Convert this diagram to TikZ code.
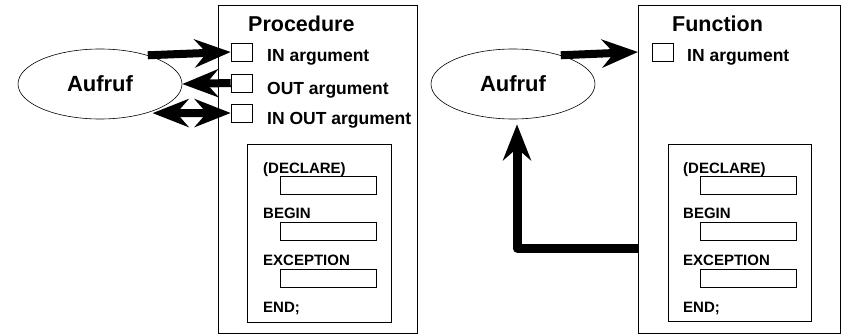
\documentclass[tikz,border=0pt]{standalone}
\usepackage{fontspec}
\setmainfont{Liberation Sans}
\usepackage{xcolor}
\usepackage{tikz}
\usetikzlibrary{arrows.meta,shapes.geometric}

\begin{document}
\begin{tikzpicture}[x=1pt,y=-1pt]
	\tikzstyle{every node}=[font=\bfseries]
	\tikzstyle{frame}=[draw, line width=0.8pt, inner sep=0pt, anchor=north west]
	\tikzstyle{argbox}=[draw, line width=0.6pt, inner sep=0pt, minimum width=21pt, minimum height=18pt]
	\tikzstyle{codebox}=[draw, line width=0.6pt, inner sep=0pt, minimum width=96pt, minimum height=18pt]
	\tikzstyle{call}=[draw, ellipse, line width=0.6pt, inner sep=0pt, minimum width=164pt, minimum height=70pt, font=\fontsize{22}{26}\selectfont\bfseries]
	\tikzstyle{title}=[anchor=base west, inner sep=0pt, font=\fontsize{21.5}{25}\selectfont\bfseries]
	\tikzstyle{arg}=[anchor=base west, inner sep=0pt, font=\fontsize{17.5}{21}\selectfont\bfseries]
	\tikzstyle{kw}=[anchor=base west, inner sep=0pt, font=\fontsize{15}{18}\selectfont\bfseries]
	\tikzstyle{flow}=[line width=8pt, -{Stealth[length=36pt,width=28pt,inset=12pt]}]
	\tikzstyle{flowboth}=[line width=8pt, {Stealth[length=36pt,width=28pt,inset=12pt]}-{Stealth[length=36pt,width=28pt,inset=12pt]}]
	\useasboundingbox (0,0) rectangle (841,335);
	% Procedure
	\node [frame, minimum width=199pt, minimum height=328pt] (procBox) at (218,5) {};
	\node [title] (procTitle) at (248,31) {Procedure};
	\node [argbox] (inP) at (241.5,52) {};
	\node [argbox] (outP) at (241.5,83) {};
	\node [argbox] (inoutP) at (241.5,113) {};
	\node [arg] (inPText) at (267,61) {IN argument};
	\node [arg] (outPText) at (267,94) {OUT argument};
	\node [arg] (inoutPText) at (267,124.5) {IN OUT argument};
	\node [frame, minimum width=144pt, minimum height=178pt] (procBody) at (247,144) {};
	\node [kw] (declPText) at (263,173) {(DECLARE)};
	\node [codebox] (declP) at (328,185) {};
	\node [kw] (beginPText) at (263,218.5) {BEGIN};
	\node [codebox] (beginP) at (328,231) {};
	\node [kw] (excPText) at (263,265) {EXCEPTION};
	\node [codebox] (excP) at (328,278) {};
	\node [kw] (endPText) at (263,312.5) {END;};
	\node [call] (callP) at (100,84) {Aufruf};
	\draw [flow] (callP.31) -- (inP.west);
	\draw [flow] (outP.west) -- (callP.east);
	\draw [flowboth] ([xshift=6pt]callP.-32) -- (inoutP.west);
	% Function
	\node [frame, minimum width=202pt, minimum height=328pt] (funcBox) at (638,5) {};
	\node [title] (funcTitle) at (672,31) {Function};
	\node [argbox] (inF) at (662.5,52) {};
	\node [arg] (inFText) at (687,61) {IN argument};
	\node [frame, minimum width=143pt, minimum height=177pt] (funcBody) at (668,144) {};
	\node [kw] (declFText) at (683,173) {(DECLARE)};
	\node [codebox] (declF) at (748,185) {};
	\node [kw] (beginFText) at (683,218.5) {BEGIN};
	\node [codebox] (beginF) at (748,231) {};
	\node [kw] (excFText) at (683,265) {EXCEPTION};
	\node [codebox] (excF) at (748,278) {};
	\node [kw] (endFText) at (683,312.5) {END;};
	\node [call] (callF) at (513,84) {Aufruf};
	\coordinate (retF) at (638,248);
	\draw [flow] (callF.31) -- (funcBox.west |- inF.west);
	\draw [flow, line width=9pt, line join=round, shorten >=5pt] (retF) -| ([xshift=4pt]callF.south);
\end{tikzpicture}
\end{document}
